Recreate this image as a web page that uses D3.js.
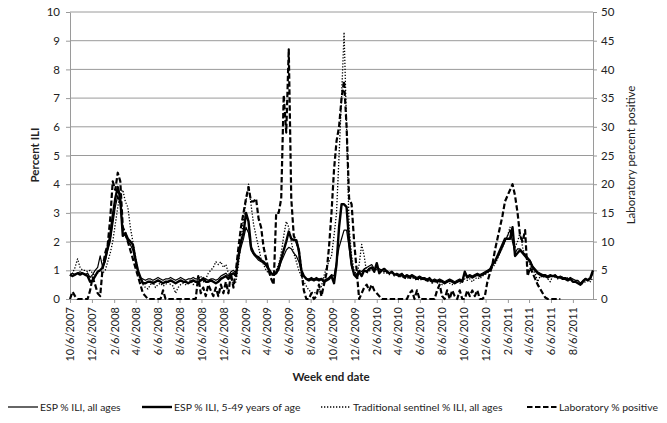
<!DOCTYPE html>
<html>
<head>
<meta charset="utf-8">
<script src="https://cdn.jsdelivr.net/npm/d3@7"></script>
<style>
  body { margin: 0; background: #fff; }
  text { font-family: Lato, "Open Sans", sans-serif; fill: #222; }
</style>
</head>
<body>
<svg id="chart" width="667" height="423"></svg>
<script>
// weekly data, week ending 10/6/2007 onwards
const firstWeek = "10/6/2007";

const espAll = [
  0.85, 0.9, 0.85, 0.9, 0.95, 0.9, 0.85, 0.9, 0.75, 0.85,
  1.0, 1.1, 1.5, 1.1, 1.3, 1.7, 2.0, 2.6, 3.2, 3.6,
  3.3, 2.3, 2.2, 2.0, 1.9, 1.7, 1.3, 0.95, 0.75, 0.7,
  0.65, 0.7, 0.7, 0.65, 0.7, 0.75, 0.7, 0.65, 0.7, 0.7,
  0.75, 0.7, 0.65, 0.7, 0.75, 0.7, 0.65, 0.7, 0.7, 0.75,
  0.7, 0.7, 0.65, 0.75, 0.7, 0.65, 0.7, 0.7, 0.65, 0.7,
  0.8, 0.85, 0.9, 0.8, 0.95, 1.0, 0.9, 1.4, 1.8, 2.1,
  2.5, 2.3, 1.7, 1.55, 1.45, 1.35, 1.3, 1.25, 1.15, 1.0,
  0.9, 0.85, 0.9, 1.0, 1.3, 1.5, 1.7, 1.8, 1.75, 1.6,
  1.5, 1.3, 1.0, 0.8, 0.7, 0.7, 0.75, 0.7, 0.75, 0.7,
  0.7, 0.65, 0.7, 0.75, 0.85, 0.8, 1.3, 1.8, 2.1, 2.4,
  2.4, 1.8, 1.1, 0.9, 0.85, 1.0, 0.95, 1.05, 1.1, 1.15,
  1.2, 1.05, 1.1, 1.05, 1.0, 0.95, 1.0, 0.9, 0.95, 0.85,
  0.9, 0.85, 0.9, 0.8, 0.85, 0.8, 0.85, 0.8, 0.75, 0.8,
  0.75, 0.75, 0.7, 0.75, 0.65, 0.7, 0.65, 0.7, 0.65, 0.6,
  0.65, 0.7, 0.65, 0.6, 0.65, 0.7, 0.65, 0.9, 0.8, 0.85,
  0.8, 0.85, 0.9, 0.85, 0.9, 0.95, 1.0, 1.05, 1.2, 1.3,
  1.45, 1.6, 1.8, 2.0, 2.2, 2.4, 2.0, 1.6, 1.75, 1.75,
  1.65, 1.55, 1.45, 1.35, 1.15, 1.05, 0.95, 0.9, 0.85, 0.85,
  0.8, 0.85, 0.8, 0.85, 0.75, 0.8, 0.75, 0.75, 0.7, 0.75,
  0.7, 0.65, 0.65, 0.55, 0.65, 0.7, 0.65, 0.7, 0.9
];

const esp549 = [
  0.85, 0.8, 0.85, 0.9, 0.85, 0.9, 0.85, 0.8, 0.6, 0.65,
  0.8, 0.95, 1.0, 1.1, 1.4, 1.8, 2.2, 2.9, 3.5, 3.9,
  3.5, 2.2, 2.3, 2.1, 2.0, 1.9, 1.4, 1.0, 0.75, 0.55,
  0.55, 0.6, 0.6, 0.55, 0.6, 0.65, 0.6, 0.55, 0.6, 0.6,
  0.65, 0.6, 0.55, 0.6, 0.65, 0.6, 0.6, 0.55, 0.6, 0.65,
  0.6, 0.6, 0.65, 0.7, 0.6, 0.6, 0.65, 0.6, 0.55, 0.6,
  0.7, 0.75, 0.8, 0.7, 0.85, 0.9, 0.8, 1.5, 2.0, 2.3,
  3.0, 2.7, 1.8, 1.6, 1.5, 1.45, 1.35, 1.3, 1.2, 1.05,
  0.9, 0.85, 0.9, 1.1, 1.4, 1.7, 2.0, 2.35, 2.1, 2.05,
  2.05, 1.7, 1.0, 0.8, 0.7, 0.65, 0.7, 0.65, 0.7, 0.65,
  0.7, 0.6, 0.65, 0.7, 0.8, 0.55, 1.2, 2.5, 3.3, 3.3,
  3.2, 2.0, 1.2, 0.85, 0.75, 0.95, 0.8, 1.0, 0.95, 1.05,
  1.1, 0.95, 1.25, 0.9, 1.0, 1.05, 0.95, 0.9, 0.95, 0.85,
  0.85, 0.8, 0.85, 0.75, 0.8, 0.75, 0.8, 0.75, 0.7, 0.75,
  0.7, 0.7, 0.65, 0.7, 0.6, 0.65, 0.6, 0.65, 0.6, 0.55,
  0.6, 0.65, 0.6, 0.55, 0.6, 0.65, 0.6, 0.95, 0.75, 0.8,
  0.75, 0.8, 0.85, 0.8, 0.85, 0.9, 0.95, 1.0, 1.2, 1.3,
  1.5, 1.7, 1.9, 2.1, 2.1, 2.1, 2.5, 1.5, 1.6, 1.7,
  1.6, 1.5, 1.4, 1.3, 1.1, 1.0, 0.9, 0.85, 0.8, 0.8,
  0.75, 0.8, 0.8, 0.8, 0.75, 0.75, 0.7, 0.7, 0.65, 0.7,
  0.6, 0.6, 0.55, 0.5, 0.6, 0.7, 0.65, 0.75, 1.0
];

const sentinel = [
  0.8, 0.9, 1.1, 1.4, 1.1, 1.0, 1.0, 0.95, 1.0, 0.9,
  0.8, 0.9, 1.0, 0.9, 1.0, 1.3, 1.6, 2.0, 2.6, 3.2,
  3.7, 3.8, 3.4, 3.2, 2.5, 2.0, 1.5, 1.0, 0.6, 0.5,
  0.4, 0.35, 0.5, 0.6, 0.4, 0.5, 0.55, 0.45, 0.5, 0.6,
  0.5, 0.45, 0.2, 0.4, 0.5, 0.55, 0.5, 0.6, 0.65, 0.5,
  0.6, 0.7, 0.8, 0.6, 0.7, 0.9, 1.0, 1.1, 1.3, 1.2,
  1.3, 1.1, 1.2, 0.9, 0.7, 0.5, 0.6, 1.2, 2.0, 2.8,
  3.4, 4.0, 3.3, 2.6, 2.2, 1.8, 1.4, 1.2, 1.0, 0.9,
  0.85, 0.8, 1.0, 1.2, 1.6, 2.2, 2.7, 2.5, 2.0, 1.6,
  1.3, 1.0, 0.8, 0.6, 0.45, 0.3, 0.25, 0.2, 0.25, 0.3,
  0.45, 0.8, 1.1, 1.3, 1.5, 2.2, 3.0, 5.0, 7.0, 9.3,
  6.0, 2.5, 1.5, 1.0, 0.85, 1.2, 1.9, 1.5, 0.9, 0.95,
  1.1, 0.95, 1.05, 1.0, 0.95, 0.9, 0.9, 0.85, 0.9, 0.8,
  0.85, 0.75, 0.8, 0.7, 0.75, 0.7, 0.75, 0.7, 0.65, 0.7,
  0.65, 0.7, 0.6, 0.65, 0.55, 0.6, 0.55, 0.6, 0.5, 0.55,
  0.6, 0.55, 0.5, 0.55, 0.6, 0.55, 0.6, 0.7, 0.65, 0.7,
  0.6, 0.7, 0.75, 0.7, 0.8, 0.85, 0.9, 1.0, 1.1, 1.2,
  1.4, 1.6, 1.8, 2.0, 2.2, 2.5, 2.0, 1.8, 2.0, 2.3,
  1.8, 1.5, 1.3, 1.2, 1.0, 0.9, 0.6, 0.8, 0.75, 0.8,
  0.7, 0.6, 0.8, 0.75, 0.7, 0.8, 0.75, 0.7, 0.75, 0.7,
  0.65, 0.6, 0.6, 0.5, 0.55, 0.6, 0.65, 0.6, 0.75
];

// laboratory percent positive (right axis)
const labPositive = [
  0, 1.25, 0.5, 0, 0, 0, 0, 0, 1.5, 3.75,
  2.5, 1, 0.5, 5.5, 8, 9.5, 14, 20.5, 19, 22,
  20.5, 12.5, 11.5, 10, 8.5, 7, 5.5, 4, 2.5, 1,
  0.5, 0, 0, 0, 0, 0, 0, 1.5, 0, 0,
  0, 0, 0, 0, 0, 0, 0, 0, 0, 0,
  0, 4, 1, 2, 0.5, 2.5, 1.5, 0.5, 2, 0.5,
  2.5, 1, 3, 1, 4.5, 2, 5, 9, 12.5, 15,
  17.5, 19.5, 17, 17, 17.5, 14, 12.5, 9, 7, 5,
  3.5, 2.5, 15, 15, 17.5, 35.5, 29, 43.5, 17.5, 11,
  10, 8.5, 5, 1.5, 0, 0, 1, 0, 0.5, 2.5,
  0.5, 2.5, 4.5, 9, 15, 22.5, 27.5, 30, 35, 38,
  30, 17.5, 16.5, 10, 5, 0, 1, 2, 2.5, 1.5,
  2.5, 1.5, 1, 0.5, 0, 0, 0, 0, 0, 0,
  0, 0, 0, 0, 0, 1, 1.5, 0, 1.5, 0,
  0, 0, 0, 0, 0, 0, 1.5, 2.5, 0.5, 0,
  1.5, 0, 1.5, 0.5, 0, 1.5, 0, 0, 1.5, 0.5,
  1.5, 0.5, 1.5, 0, 0, 0.5, 3, 4.5, 6, 8.5,
  10.5, 12.5, 14.5, 17, 18, 19, 20, 18, 15, 11,
  10, 12, 4, 5.5, 4.5, 3.5, 2.5, 1.75, 1, 0.25,
  0, 0, 0, 0, 0, 0, null, null, null, null,
  null, null, null, null, null, null, null, null, null
];

const xTickLabels = ["10/6/2007", "12/6/2007", "2/6/2008", "4/6/2008", "6/6/2008", "8/6/2008",
  "10/6/2008", "12/6/2008", "2/6/2009", "4/6/2009", "6/6/2009", "8/6/2009", "10/6/2009",
  "12/6/2009", "2/6/2010", "4/6/2010", "6/6/2010", "8/6/2010", "10/6/2010", "12/6/2010",
  "2/6/2011", "4/6/2011", "6/6/2011", "8/6/2011"];
const leftTicks = [0, 1, 2, 3, 4, 5, 6, 7, 8, 9, 10];
const rightTicks = [0, 5, 10, 15, 20, 25, 30, 35, 40, 45, 50];

const legendNames = ["ESP % ILI, all ages", "ESP % ILI, 5-49 years of age",
  "Traditional sentinel % ILI, all ages", "Laboratory % positive"];

const parse = d3.timeParse("%m/%d/%Y");
const start = parse(firstWeek);
const weeks = espAll.map((d, i) => d3.timeWeek.offset(start, i));

const svg = d3.select('#chart');
const plotL = 70, plotR = 593, plotT = 12, plotB = 299;
const grey = '#9a9a9a';

const x = d3.scaleTime().domain([weeks[0], weeks[weeks.length - 1]]).range([plotL, plotR]);
const yL = d3.scaleLinear().domain([0, 10]).range([plotB, plotT]);
const yR = d3.scaleLinear().domain([0, 50]).range([plotB, plotT]);

// gridlines
svg.append('g').selectAll('line').data(leftTicks.slice(1)).enter().append('line')
  .attr('x1', plotL).attr('x2', plotR)
  .attr('y1', d => yL(d)).attr('y2', d => yL(d))
  .attr('stroke', grey).attr('stroke-width', 1);

const styleAxis = g => {
  g.select('.domain').attr('stroke', grey);
  g.selectAll('.tick line').attr('stroke', grey);
  g.selectAll('.tick text').style('font-size', '11.5px').attr('fill', '#222');
};

svg.append('g').attr('transform', `translate(${plotL},0)`)
  .call(d3.axisLeft(yL).tickValues(leftTicks).tickSize(4).tickSizeOuter(0).tickPadding(6))
  .call(styleAxis);

svg.append('g').attr('transform', `translate(${plotR},0)`)
  .call(d3.axisRight(yR).tickValues(rightTicks).tickSize(4).tickSizeOuter(0).tickPadding(4))
  .call(styleAxis);

const xAxis = svg.append('g').attr('transform', `translate(0,${plotB})`)
  .call(d3.axisBottom(x).tickValues(xTickLabels.map(parse)).tickSize(4).tickSizeOuter(0)
    .tickFormat(d3.timeFormat('%-m/%-d/%Y')))
  .call(styleAxis);
xAxis.selectAll('.tick text')
  .attr('transform', 'rotate(-90)')
  .attr('x', -8).attr('y', 0).attr('dy', '0.35em')
  .style('text-anchor', 'end')
  .style('font-size', '11px');

// series
const series = [
  {values: espAll, y: yL, width: 1.2, dash: null},
  {values: esp549, y: yL, width: 2.4, dash: null},
  {values: sentinel, y: yL, width: 1.3, dash: '1.3,1.7'},
  {values: labPositive, y: yR, width: 2.2, dash: '5.5,2.5'}
];

series.forEach(s => {
  const line = d3.line()
    .defined(d => d != null)
    .x((d, i) => x(weeks[i]))
    .y(d => s.y(d));
  svg.append('path')
    .attr('d', line(s.values))
    .attr('fill', 'none')
    .attr('stroke', '#000')
    .attr('stroke-width', s.width)
    .attr('stroke-linejoin', 'round')
    .attr('stroke-dasharray', s.dash);
});

// axis titles
svg.append('text')
  .attr('transform', 'translate(39,155) rotate(-90)')
  .attr('text-anchor', 'middle')
  .style('font-size', '11.5px').style('font-weight', 'bold')
  .text('Percent ILI');

svg.append('text')
  .attr('transform', 'translate(635,155) rotate(-90)')
  .attr('text-anchor', 'middle')
  .style('font-size', '11.5px')
  .text('Laboratory percent positive');

svg.append('text')
  .attr('x', 331).attr('y', 381)
  .attr('text-anchor', 'middle')
  .style('font-size', '11.5px').style('font-weight', 'bold')
  .text('Week end date');

// legend
const legendX = [8, 142, 321, 527];
const legend = svg.append('g').attr('transform', 'translate(0,407)');
series.forEach((s, i) => {
  legend.append('line')
    .attr('x1', legendX[i]).attr('x2', legendX[i] + 30)
    .attr('y1', 0).attr('y2', 0)
    .attr('stroke', '#000')
    .attr('stroke-width', s.width)
    .attr('stroke-dasharray', s.dash);
  legend.append('text')
    .attr('x', legendX[i] + 32).attr('y', 4)
    .style('font-size', '10.4px')
    .text(legendNames[i]);
});
</script>
</body>
</html>
